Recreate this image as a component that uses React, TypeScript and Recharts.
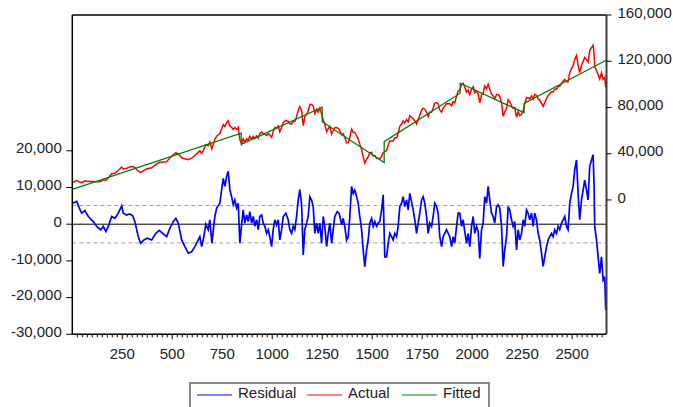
import React from 'react';
import { LineChart, Line, XAxis, YAxis, ReferenceLine, Legend } from 'recharts';

// observation index of each sampled point
const obs = [1,22,35,47,63,80,105,122,142,155,168,180,188,197,213,230,247,255,272,288,302,313,330,342,358,375,397,418,435,452,472,488,505,518,530,547,563,580,597,613,630,638,647,655,668,680,688,698,713,722,738,747,755,763,772,780,788,797,805,813,822,830,838,847,855,863,872,880,888,897,905,913,922,930,938,947,955,963,972,980,988,997,1005,1013,1022,1030,1038,1047,1055,1068,1080,1088,1097,1105,1113,1122,1130,1138,1147,1155,1163,1172,1180,1188,1197,1205,1213,1222,1230,1238,1247,1255,1263,1272,1280,1288,1297,1305,1313,1325,1335,1347,1355,1363,1372,1380,1388,1397,1405,1413,1422,1430,1438,1447,1455,1463,1472,1480,1488,1497,1505,1513,1522,1530,1538,1547,1555,1563,1572,1580,1588,1597,1605,1613,1622,1630,1638,1647,1655,1663,1672,1680,1688,1697,1705,1713,1722,1730,1738,1747,1755,1763,1772,1780,1788,1797,1805,1813,1822,1830,1838,1847,1855,1863,1872,1880,1888,1897,1905,1913,1922,1930,1938,1947,1955,1963,1972,1980,1988,1997,2005,2013,2022,2030,2038,2047,2055,2063,2072,2080,2088,2097,2105,2113,2122,2130,2138,2147,2155,2163,2172,2180,2188,2197,2205,2213,2222,2230,2238,2247,2255,2263,2272,2280,2288,2297,2305,2313,2322,2330,2338,2347,2355,2363,2372,2380,2388,2397,2405,2413,2422,2430,2438,2447,2455,2463,2472,2480,2488,2497,2505,2513,2522,2530,2538,2547,2555,2563,2572,2580,2588,2597,2605,2610,2613,2622,2630,2638,2647,2655,2663,2668];

// Residual (left axis)
const residual = [5700,6200,4400,3000,3700,2100,700,-600,-1500,-600,-2000,-600,700,2100,1600,3000,5000,3000,2500,2800,2300,700,-3400,-5200,-4300,-3800,-4300,-2500,-1700,-2500,-3400,-1100,700,1600,300,-4300,-6100,-7900,-7500,-6100,-4300,-3400,-6100,-4300,0,-1500,1200,-5200,2100,4400,5700,9400,12500,10300,13000,14400,9400,7500,5300,6600,4400,5700,-5200,0,3900,300,2500,700,3400,300,2100,-600,1200,-1500,2100,2500,300,-600,-2500,-1500,-3400,-6100,-1500,1200,-200,1200,-4300,-1500,2100,3000,1200,-1500,-2500,-600,-1500,2100,6600,9400,5300,-8400,-1500,300,2100,7500,6600,4800,-2500,300,-2500,300,-5200,2100,-600,-6100,-2500,300,-5200,-1500,2100,3400,3000,-200,1600,-600,-4300,-3400,2100,10300,8400,9300,7500,5700,2100,-1500,-7000,-11600,-7000,-4300,300,1600,-600,700,-600,300,700,3900,8000,-8900,-8900,-5200,-2500,-3400,-4300,-2500,-3400,-600,4800,5700,7500,4800,6600,3900,8400,6100,3900,1200,-2500,300,3000,6600,7500,5700,2100,-2500,300,-600,2100,5700,4800,3000,-3400,-6100,-3400,-2500,-1500,-2500,-3400,-6100,-3400,-5200,-600,3000,3000,-600,1200,-2000,-5200,-2500,-6100,-600,2100,-2500,-600,-2000,-9300,-1500,300,7500,5700,10300,6600,3000,2100,300,4800,5300,4400,-600,-11500,-7000,-3400,4800,3900,1200,-600,700,-7000,-1500,-4300,-2500,1200,-600,3900,3000,1200,3000,-600,3000,1200,-2500,-4300,-7900,-11500,-8900,-6100,-4300,-3400,-2500,-3400,-1500,-2500,-600,-1500,300,1200,2100,-600,-1500,5700,8400,10300,14800,17500,8400,1200,6600,9300,12000,9300,6600,15700,17500,18900,10300,-600,-4300,-8900,-13400,-8900,-15200,-14300,-23400];

// Actual (right axis)
const actual = [14950,16700,15700,15000,16600,16000,16000,15700,15900,17600,16900,19000,20800,22700,23100,25500,28500,26900,27400,28600,28900,28000,24900,23700,25600,27000,27800,30800,32600,32800,33000,36300,39000,40700,40100,36500,35600,34800,36100,38500,41200,42600,40400,42700,47700,46900,50100,44200,52400,55200,57500,61700,65200,63500,66700,68600,64000,62700,60900,62700,61000,62800,52300,48400,52900,49900,52800,51700,55000,52600,55000,53000,55500,53400,57600,58800,57200,56900,55700,57400,56100,54100,59300,62700,62000,64000,59100,62700,66900,68800,68000,65900,65600,68100,67900,72200,77300,80800,77400,64300,71800,74300,76800,82800,82600,81400,74800,78300,76100,79600,74800,69200,65600,59100,61800,63700,57100,59900,62600,62500,61000,56400,57300,54200,49500,49500,54000,61200,58400,58400,55600,52800,48300,43700,37300,31800,35400,37100,40800,41100,38000,38400,36000,36000,35500,37700,40900,41800,42800,47400,51000,51100,51100,53800,53800,57500,63800,65700,68400,66600,69400,67500,72900,71600,70300,68500,65800,69500,73000,77600,79400,78500,75900,72200,75900,75900,79500,84000,84100,83200,77700,76000,79500,81300,83300,83200,83200,81500,85100,84100,89700,94200,95100,99800,101000,97200,93300,95300,91100,95900,97900,92700,93900,91800,83900,91000,92100,98700,96200,100100,95800,91500,90000,87500,91300,91200,89600,83900,72400,76200,79100,86700,85100,81700,79300,79900,71500,76400,73000,74000,77100,83300,88600,88400,87400,90000,87100,91400,90400,87500,86400,83600,80800,84100,87700,90200,91900,93600,93400,96000,95800,98500,98300,100900,102600,104200,102300,102100,110100,113600,116200,121400,124900,116600,110100,116300,119800,123200,121300,119300,129200,131800,133900,125800,115100,112200,108400,104600,109900,104300,106000,97300];

// Fitted (right axis) – breakpoints of the piecewise trend
const fittedObs = [0,845,845,1250,1250,1560,1560,1940,1940,2260,2260,2672];
const fitted = [9250,57900,48200,80200,67700,32300,50400,92300,101000,75500,83600,121100];

const leftTicks = [-30000,-20000,-10000,0,10000,20000];
const rightTicks = [0,40000,80000,120000,160000];
const xMajorTicks = [250,500,750,1000,1250,1500,1750,2000,2250,2500];
const xTicks = Array.from({ length: 106 }, (_, i) => (i + 1) * 25);
const residualBand = 5100;

const seriesNames = ['Residual', 'Actual', 'Fitted'];
const seriesColors = ['#0000ff', '#ff0000', '#008000'];

const FONT = '"Liberation Sans", Arial, sans-serif';
const fmt = (v: number) => v.toLocaleString('en-US');

const rows = obs.map((o, i) => ({ obs: o, residual: residual[i], actual: actual[i] }));
const fittedRows = fittedObs.map((o, i) => ({ obs: o, fitted: fitted[i] }));

const XTick = (props: any) => {
  const { x, y, payload } = props;
  const v = payload.value;
  const major = xMajorTicks.includes(v);
  return (
    <g>
      <line x1={x} x2={x} y1={y} y2={y + (major ? 5 : 3)} stroke="#000" strokeWidth={1} />
      {major && (
        <text x={x} y={y + 24.4} textAnchor="middle" fontSize={15} fill="#222" fontFamily={FONT}>
          {v}
        </text>
      )}
    </g>
  );
};

const LeftTick = (props: any) => {
  const { x, y, payload } = props;
  return (
    <g>
      <line x1={x - 6} x2={x} y1={y} y2={y} stroke="#000" strokeWidth={1} />
      <text x={x - 10.5} y={y + 2.7} textAnchor="end" fontSize={15} fill="#222" fontFamily={FONT}>
        {fmt(payload.value)}
      </text>
    </g>
  );
};

const RightTick = (props: any) => {
  const { x, y, payload } = props;
  return (
    <g>
      <line x1={x} x2={x + 5} y1={y} y2={y} stroke="#000" strokeWidth={1} />
      <text x={x + 11} y={y + 2.7} textAnchor="start" fontSize={15} fill="#222" fontFamily={FONT}>
        {fmt(payload.value)}
      </text>
    </g>
  );
};

const LegendBox = () => {
  const lineX = [8, 118, 213];
  const textX = [49, 159, 254];
  return (
    <svg width={301} height={25} style={{ display: 'block' }}>
      <rect x={1} y={1} width={299} height={40} fill="#fff" stroke="#8a8a8a" strokeWidth={2} />
      {seriesNames.map((n, i) => (
        <g key={n}>
          <line x1={lineX[i]} x2={lineX[i] + 35} y1={13} y2={13} stroke={seriesColors[i]} strokeWidth={1} />
          <text x={textX[i]} y={15.5} fontSize={15} fill="#222" fontFamily={FONT}>
            {n}
          </text>
        </g>
      ))}
    </svg>
  );
};

export default function App() {
  return (
    <div style={{ position: 'absolute', left: 0, top: 0, width: 673, height: 407, overflow: 'hidden', background: '#fff' }}>
      <LineChart width={673} height={407} data={rows} margin={{ top: 15, right: 0, bottom: 42.7, left: 0 }}>
        <XAxis
          dataKey="obs"
          type="number"
          domain={[0, 2672]}
          ticks={xTicks}
          interval={0}
          tickLine={false}
          tickSize={0}
          tickMargin={0}
          tick={<XTick />}
          axisLine={{ stroke: '#000', strokeWidth: 1.5 }}
          height={30}
          allowDataOverflow
        />
        <YAxis
          yAxisId="left"
          orientation="left"
          width={72.3}
          domain={[-30000, 57000]}
          ticks={leftTicks}
          interval={0}
          tickLine={false}
          tickSize={0}
          tickMargin={0}
          tick={<LeftTick />}
          axisLine={{ stroke: '#000', strokeWidth: 1.5 }}
          allowDataOverflow
        />
        <YAxis
          yAxisId="right"
          orientation="right"
          width={66.5}
          domain={[-116200, 160000]}
          ticks={rightTicks}
          interval={0}
          tickLine={false}
          tickSize={0}
          tickMargin={0}
          tick={<RightTick />}
          axisLine={{ stroke: '#404040', strokeWidth: 2 }}
          allowDataOverflow
        />
        <ReferenceLine yAxisId="left" y={57000} stroke="#000" strokeWidth={1.5} />
        <ReferenceLine yAxisId="left" y={residualBand} stroke="#a0a0a0" strokeDasharray="4 3" />
        <ReferenceLine yAxisId="left" y={-residualBand} stroke="#a0a0a0" strokeDasharray="4 3" />
        <ReferenceLine yAxisId="left" y={0} stroke="#000" strokeWidth={1} />
        <Line
          yAxisId="left"
          dataKey="residual"
          name={seriesNames[0]}
          stroke={seriesColors[0]}
          strokeWidth={1.7}
          dot={false}
          type="linear"
          isAnimationActive={false}
        />
        <Line
          yAxisId="right"
          dataKey="actual"
          name={seriesNames[1]}
          stroke={seriesColors[1]}
          strokeWidth={1.5}
          dot={false}
          type="linear"
          isAnimationActive={false}
        />
        <Line
          yAxisId="right"
          data={fittedRows}
          dataKey="fitted"
          name={seriesNames[2]}
          stroke={seriesColors[2]}
          strokeWidth={1.3}
          dot={false}
          type="linear"
          isAnimationActive={false}
        />
        <Legend
          layout="horizontal"
          verticalAlign="middle"
          align="center"
          wrapperStyle={{ left: 189, top: 382, width: 301, height: 25 }}
          content={() => <LegendBox />}
        />
      </LineChart>
    </div>
  );
}
